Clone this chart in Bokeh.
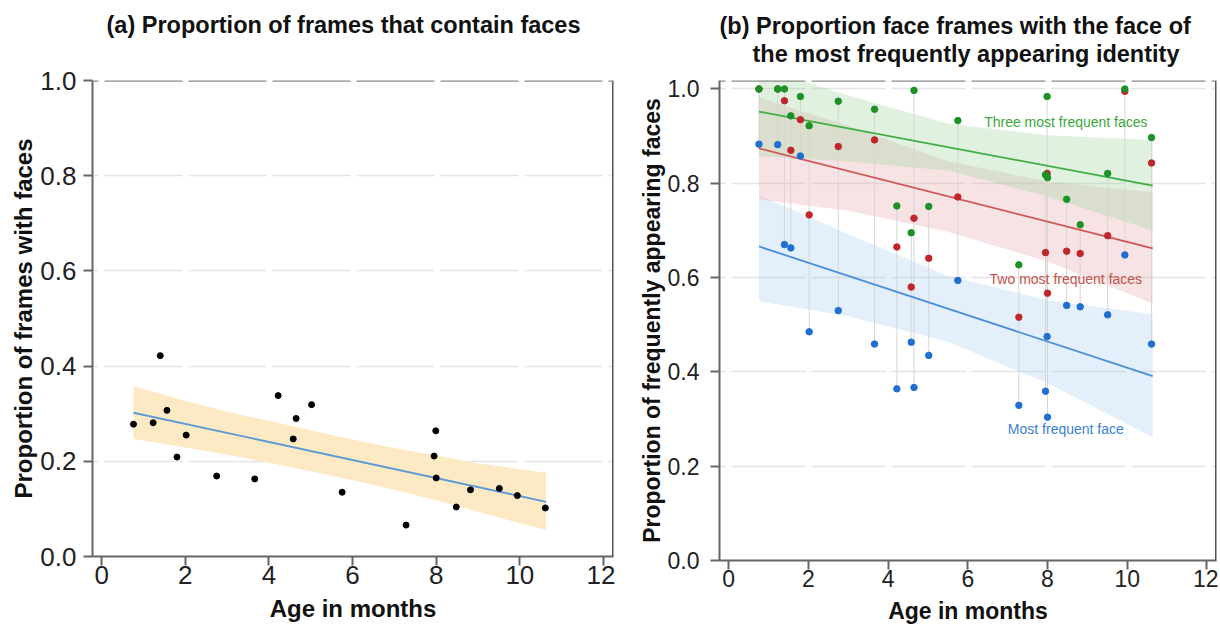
from bokeh.plotting import figure
from bokeh.models import Span, Label, Range1d, FixedTicker, PrintfTickFormatter, Title
from bokeh.layouts import row
from bokeh.embed import file_html
from bokeh.resources import INLINE

# ---------------- data ----------------
ages = [0.76, 1.23, 1.40, 1.56, 1.80, 2.02, 2.75, 3.66, 4.22, 4.58, 4.65,
        5.02, 5.75, 7.28, 7.99, 7.95, 8.00, 8.48, 8.82, 9.51, 9.94, 10.61]

# panel (a)
face_prop = [0.278, 0.281, 0.422, 0.307, 0.209, 0.255, 0.169, 0.163, 0.338, 0.247, 0.290,
             0.319, 0.135, 0.066, 0.264, 0.211, 0.165, 0.104, 0.140, 0.143, 0.128, 0.102]
fit_a_x = [0.76, 10.63]
fit_a_y = [0.302, 0.115]
band_a_x = [0.76, 2, 3, 4, 5, 6, 7, 8, 9, 10.63]
band_a_lo = [0.247, 0.229, 0.214, 0.197, 0.179, 0.160, 0.140, 0.118, 0.094, 0.055]
band_a_hi = [0.357, 0.327, 0.304, 0.285, 0.265, 0.246, 0.228, 0.212, 0.196, 0.176]

# panel (b)
most1 = [0.883, 0.882, 0.670, 0.663, 0.858, 0.485, 0.530, 0.459, 0.364, 0.463, 0.367,
         0.435, 0.594, 0.329, 0.475, 0.359, 0.304, 0.541, 0.538, 0.521, 0.648, 0.459]
most2 = [1.000, 1.000, 0.975, 0.870, 0.935, 0.733, 0.878, 0.892, 0.665, 0.580, 0.726,
         0.641, 0.771, 0.516, 0.821, 0.653, 0.567, 0.656, 0.651, 0.689, 0.995, 0.843]
most3 = [1.000, 1.000, 1.000, 0.943, 0.984, 0.922, 0.974, 0.957, 0.752, 0.695, 0.997,
         0.751, 0.933, 0.627, 0.984, 0.818, 0.812, 0.766, 0.712, 0.821, 1.000, 0.897]
fit_b_x = [0.76, 10.64]
fit1_y = [0.666, 0.391]
fit2_y = [0.874, 0.662]
fit3_y = [0.952, 0.795]
band_b_x = [0.76, 3, 5.5, 8, 10.64]
band1_lo = [0.550, 0.518, 0.464, 0.376, 0.262]
band1_hi = [0.775, 0.692, 0.604, 0.552, 0.522]
band2_lo = [0.766, 0.742, 0.697, 0.634, 0.545]
band2_hi = [0.982, 0.922, 0.847, 0.804, 0.781]
band3_lo = [0.857, 0.846, 0.827, 0.772, 0.700]
band3_hi = [1.047, 0.986, 0.927, 0.902, 0.892]

x_ticks = [0, 2, 4, 6, 8, 10, 12]
y_ticks = [0.0, 0.2, 0.4, 0.6, 0.8, 1.0]

title_a = "(a) Proportion of frames that contain faces"
title_b1 = "(b) Proportion face frames with the face of"
title_b2 = "the most frequently appearing identity"

FONT = "Liberation Sans"


def style(p, x_end, y_top, dash, dash_off, tick_fs, lab_fs, ytick_standoff):
    p.outline_line_color = None
    p.background_fill_color = "white"
    p.border_fill_color = "white"
    p.xgrid.visible = False
    p.ygrid.ticker = FixedTicker(ticks=y_ticks)
    p.ygrid.grid_line_color = "#e4e4e4"
    p.ygrid.grid_line_width = 1.5
    p.ygrid.grid_line_dash = dash
    p.ygrid.grid_line_dash_offset = dash_off
    p.xaxis.ticker = FixedTicker(ticks=x_ticks)
    p.yaxis.ticker = FixedTicker(ticks=y_ticks)
    p.yaxis.formatter = PrintfTickFormatter(format="%.1f")
    for ax in (p.xaxis[0], p.yaxis[0]):
        ax.axis_line_color = "#666666"
        ax.axis_line_width = 2
        ax.major_tick_line_color = "#666666"
        ax.major_tick_line_width = 2
        ax.major_tick_out = 9
        ax.major_tick_in = 0
        ax.minor_tick_line_color = None
        ax.major_label_text_font = FONT
        ax.major_label_text_font_size = tick_fs
        ax.major_label_text_color = "#222222"
        ax.axis_label_text_font = FONT
        ax.axis_label_text_font_size = lab_fs
        ax.axis_label_text_font_style = "bold"
        ax.axis_label_text_color = "#111111"
    p.xaxis.major_label_standoff = 0
    p.xaxis.axis_label_standoff = 8
    p.yaxis.major_label_standoff = ytick_standoff
    p.yaxis.axis_label_standoff = 0
    p.add_layout(Span(location=x_end, dimension="height", line_color="#555555", line_width=3))
    p.add_layout(Span(location=y_top, dimension="width", line_color="#8a8a8a", line_width=2.5,
                      line_dash=dash, line_dash_offset=dash_off))


def heading(text, size, offset, standoff):
    return Title(text=text, align="left", offset=offset, vertical_align="bottom",
                 standoff=standoff, text_font=FONT, text_font_size=size,
                 text_font_style="bold", text_color="#111111")


def spacer(standoff):
    return Title(text=" ", text_font_size="2px", standoff=standoff, text_color="white")


# ---------------- panel (a) ----------------
pa = figure(frame_width=521, frame_height=476, min_border_left=92, min_border_right=2,
            min_border_top=80, min_border_bottom=20, title=None,
            x_range=Range1d(-0.22, 12.24), y_range=Range1d(0, 1.0),
            output_backend="svg", toolbar_location=None,
            x_axis_label="Age in months", y_axis_label="Proportion of frames with faces")
style(pa, 12.24, 1.0, "78 6", 72, "26px", "24px", 7)
pa.add_layout(spacer(35), "above")
pa.add_layout(heading(title_a, "23.5px", 14, 8), "above")

pa.varea(x=band_a_x, y1=band_a_lo, y2=band_a_hi, fill_color="#fde9c4", fill_alpha=1.0)
pa.line(fit_a_x, fit_a_y, line_color="#5b9bd5", line_width=1.8)
pa.scatter(ages, face_prop, size=6, fill_color="black", line_color="black")

# ---------------- panel (b) ----------------
pb = figure(frame_width=497, frame_height=480, min_border_left=104, min_border_right=2,
            min_border_top=80, min_border_bottom=20, title=None,
            x_range=Range1d(-0.23, 12.24), y_range=Range1d(0, 1.018),
            output_backend="svg", toolbar_location=None,
            x_axis_label="Age in months", y_axis_label="Proportion of frequently appearing faces")
style(pb, 12.24, 1.018, "74 6", 68, "23px", "23px", 11)
pb.add_layout(spacer(10), "above")
pb.add_layout(heading(title_b2, "23.5px", 33, 0), "above")
pb.add_layout(heading(title_b1, "23.5px", 0, 0), "above")

pb.varea(x=band_b_x, y1=band1_lo, y2=band1_hi, fill_color="#a9cdf0", fill_alpha=0.32)
pb.varea(x=band_b_x, y1=band2_lo, y2=band2_hi, fill_color="#e7a9a9", fill_alpha=0.32)
pb.varea(x=band_b_x, y1=band3_lo, y2=band3_hi, fill_color="#9fd49a", fill_alpha=0.32)

pb.segment(x0=ages, y0=most1, x1=ages, y1=most3, line_color="#d6d6d6", line_width=1)

pb.line(fit_b_x, fit1_y, line_color="#4a8fdc", line_width=1.8)
pb.line(fit_b_x, fit2_y, line_color="#d05555", line_width=1.8)
pb.line(fit_b_x, fit3_y, line_color="#3fae44", line_width=1.8)

pb.scatter(ages, most1, size=6.5, fill_color="#1f6fd2", line_color="#1f6fd2")
pb.scatter(ages, most2, size=6.5, fill_color="#c0262c", line_color="#c0262c")
pb.scatter(ages, most3, size=6.5, fill_color="#1b9126", line_color="#1b9126")

for txt, yy, col in [("Three most frequent faces", 0.929, "#3aa83a"),
                     ("Two most frequent faces", 0.598, "#c4544a"),
                     ("Most frequent face", 0.278, "#3a80d5")]:
    pb.add_layout(Label(x=8.46, y=yy, text=txt, text_align="center", text_baseline="middle",
                        text_font=FONT, text_font_size="14px", text_color=col))

layout = row(pa, pb)
open("out.html", "w").write(file_html(layout, INLINE))
